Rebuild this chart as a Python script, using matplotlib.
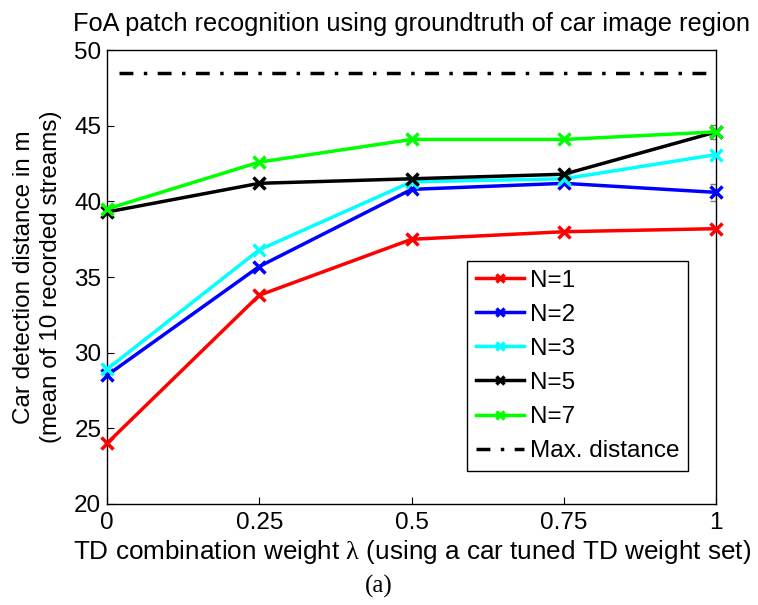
import matplotlib
matplotlib.use('Agg')
import matplotlib.pyplot as plt

# data
lam = [0, 0.25, 0.5, 0.75, 1]
n1 = [24.0, 33.8, 37.5, 38.0, 38.2]
n2 = [28.5, 35.7, 40.8, 41.2, 40.6]
n3 = [28.9, 36.8, 41.3, 41.5, 43.1]
n5 = [39.3, 41.2, 41.5, 41.8, 44.6]
n7 = [39.5, 42.6, 44.1, 44.1, 44.6]
max_dist = 48.5
# small error bars visible at lambda=1
err_n5 = 0.45
err_n2 = 0.55

series = [('N=1', n1, '#ff0000'),
          ('N=2', n2, '#0000ff'),
          ('N=3', n3, '#00ffff'),
          ('N=5', n5, '#000000'),
          ('N=7', n7, '#00ff00')]

plt.rcParams['font.family'] = ['Liberation Sans', 'DejaVu Sans']
plt.rcParams['mathtext.fontset'] = 'custom'
plt.rcParams['mathtext.it'] = 'Liberation Serif'
plt.rcParams['mathtext.rm'] = 'Liberation Serif'

fig = plt.figure(figsize=(7.58, 6.05), dpi=100)
ax = fig.add_axes([0.141, 0.167, 0.804, 0.750])

ax.errorbar([lam[-1]], [n5[-1]], yerr=err_n5, fmt='none', ecolor='#808080',
            elinewidth=1, capsize=4, zorder=1)
ax.errorbar([lam[-1]], [n2[-1]], yerr=err_n2, fmt='none', ecolor='#808080',
            elinewidth=1, capsize=4, zorder=1)

for name, vals, col in series:
    ax.plot(lam, vals, color=col, lw=2.5, marker='x', ms=8, mew=2.5,
            label=name, clip_on=False, zorder=3)

ax.plot([0.02, 0.99], [max_dist, max_dist], color='k', lw=2.5,
        dashes=[4, 3, 1, 3], label='Max. distance')

ax.set_xlim(0, 1)
ax.set_ylim(20, 50)
ax.set_xticks(lam)
ax.set_xticklabels(['0', '0.25', '0.5', '0.75', '1'])
ax.set_yticks([20, 25, 30, 35, 40, 45, 50])
ax.tick_params(direction='in', labelsize=17.5, length=5, top=False, right=False)
ax.tick_params(axis='x', pad=6)
ax.tick_params(axis='y', pad=4)
for s in ax.spines.values():
    s.set_linewidth(1)

ax.set_xlabel('TD combination weight $\\lambda$ (using a car tuned TD weight set)',
              fontsize=18.8, labelpad=3)
ax.set_ylabel('Car detection distance in m\n(mean of 10 recorded streams)',
              fontsize=17.5, labelpad=9, linespacing=1.3)
ax.set_title('FoA patch recognition using groundtruth of car image region',
             fontsize=18.3, pad=14)

leg = ax.legend(loc='lower right', bbox_to_anchor=(0.954, 0.073), fontsize=17.5,
                borderaxespad=0, handlelength=2.0, handletextpad=0.25,
                borderpad=0.35, labelspacing=0.5, fancybox=False,
                edgecolor='k', framealpha=1, markerscale=0.75)
leg.get_frame().set_linewidth(1)

fig.text(0.5, 0.031, '(a)', ha='center', va='center', fontsize=18,
         family='Liberation Serif')

fig.savefig('out.png', dpi=100)
